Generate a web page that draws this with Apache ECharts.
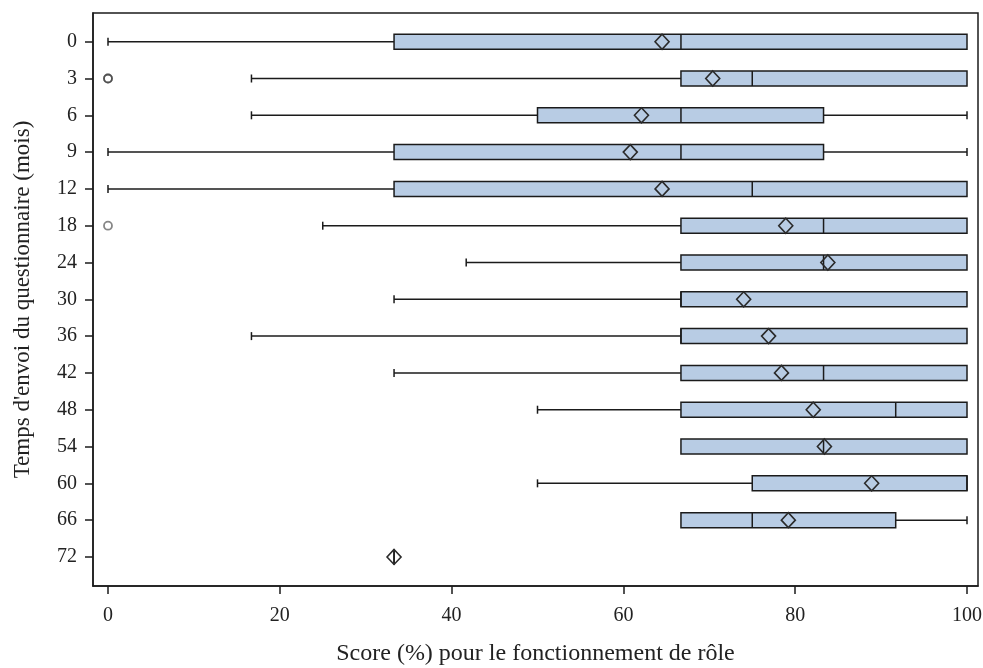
<!DOCTYPE html>
<html>
<head>
<meta charset="utf-8">
<script src="https://cdn.jsdelivr.net/npm/echarts@6/dist/echarts.min.js"></script>
<style>
  html, body { margin: 0; padding: 0; background: #fff; }
  #chart { width: 983px; height: 668px; }
</style>
</head>
<body>
<div id="chart"></div>
<script>
// Months since the questionnaire was sent (one row per time point)
const months = ['0', '3', '6', '9', '12', '18', '24', '30', '36', '42', '48', '54', '60', '66', '72'];

// Box-plot statistics of the role-functioning score (%) per time point
const whiskerLow  = [0, 16.7, 16.7, 0, 0, 25, 41.7, 33.3, 16.7, 33.3, 50, 66.7, 50, 66.7, 33.3];
const q1          = [33.3, 66.7, 50, 33.3, 33.3, 66.7, 66.7, 66.7, 66.7, 66.7, 66.7, 66.7, 75, 66.7, 33.3];
const median      = [66.7, 75, 66.7, 66.7, 75, 83.3, 83.3, 66.7, 66.7, 83.3, 91.7, 83.3, 100, 75, 33.3];
const q3          = [100, 100, 83.3, 83.3, 100, 100, 100, 100, 100, 100, 100, 100, 100, 91.7, 33.3];
const whiskerHigh = [100, 100, 100, 100, 100, 100, 100, 100, 100, 100, 100, 100, 100, 100, 33.3];
const mean        = [64.5, 70.4, 62.1, 60.8, 64.5, 78.9, 83.8, 74.0, 76.9, 78.4, 82.1, 83.4, 88.9, 79.2, 33.3];

// Outlying observations as row index + score (two coincide at 3 months)
const outlierRows   = [1, 1, 5];
const outlierScores = [0, 0, 0];

// Axis ticks
const xTicks = [0, 20, 40, 60, 80, 100];
const yTicks = months.map((m, i) => i);

const boxData = months.map((m, i) => [i, whiskerLow[i], q1[i], median[i], q3[i], whiskerHigh[i], mean[i]]);
const outlierData = outlierRows.map((r, k) => [outlierScores[k], r]);

const LINE = '#1b1b1b';
const FILL = '#b8cce4';
const FONT = 'Liberation Serif';
const BOX_HALF = 7.5;
const CAP_HALF = 4;
const DIA_W = 7;
const DIA_H = 7.5;

function renderBox(params, api) {
  const row = api.value(0);
  const pLow = api.coord([api.value(1), row]);
  const pQ1 = api.coord([api.value(2), row]);
  const pMed = api.coord([api.value(3), row]);
  const pQ3 = api.coord([api.value(4), row]);
  const pHigh = api.coord([api.value(5), row]);
  const pMean = api.coord([api.value(6), row]);
  const y = pQ1[1];
  const lineStyle = { stroke: LINE, lineWidth: 1.5, fill: null };
  const children = [];

  // lower whisker + cap
  if (pQ1[0] - pLow[0] > 0.5) {
    children.push({ type: 'line', shape: { x1: pLow[0], y1: y, x2: pQ1[0], y2: y }, style: lineStyle });
    children.push({ type: 'line', shape: { x1: pLow[0], y1: y - CAP_HALF, x2: pLow[0], y2: y + CAP_HALF }, style: lineStyle });
  }
  // upper whisker + cap
  if (pHigh[0] - pQ3[0] > 0.5) {
    children.push({ type: 'line', shape: { x1: pQ3[0], y1: y, x2: pHigh[0], y2: y }, style: lineStyle });
    children.push({ type: 'line', shape: { x1: pHigh[0], y1: y - CAP_HALF, x2: pHigh[0], y2: y + CAP_HALF }, style: lineStyle });
  }
  // box
  children.push({
    type: 'rect',
    shape: { x: pQ1[0], y: y - BOX_HALF, width: pQ3[0] - pQ1[0], height: BOX_HALF * 2 },
    style: { fill: FILL, stroke: LINE, lineWidth: 1.5 }
  });
  // median
  children.push({ type: 'line', shape: { x1: pMed[0], y1: y - BOX_HALF, x2: pMed[0], y2: y + BOX_HALF }, style: lineStyle });
  // mean diamond
  const mx = pMean[0];
  children.push({
    type: 'polygon',
    shape: { points: [[mx, y - DIA_H], [mx + DIA_W, y], [mx, y + DIA_H], [mx - DIA_W, y]] },
    style: { fill: null, stroke: '#2a2a2a', lineWidth: 1.6 }
  });
  return { type: 'group', children: children };
}

const chart = echarts.init(document.getElementById('chart'), null, { renderer: 'canvas' });

chart.setOption({
  animation: false,
  backgroundColor: '#fff',
  grid: {
    left: 93, right: 5, top: 13, bottom: 82,
    containLabel: false,
    outerBoundsMode: 'none',
    show: true, borderColor: LINE, borderWidth: 1.5, backgroundColor: 'transparent'
  },
  xAxis: {
    type: 'value',
    min: -1.746,
    max: 101.28,
    splitLine: { show: false },
    axisLine: { show: true, onZero: false, lineStyle: { color: LINE, width: 1.5 } },
    axisTick: { show: true, customValues: xTicks, length: 8, lineStyle: { color: LINE, width: 1.5 } },
    axisLabel: {
      customValues: xTicks, margin: 20,
      color: '#222', fontFamily: FONT, fontSize: 20
    },
    name: 'Score (%) pour le fonctionnement de rôle',
    nameLocation: 'middle',
    nameGap: 56,
    nameTextStyle: { color: '#222', fontFamily: FONT, fontSize: 24 }
  },
  yAxis: {
    type: 'value',
    inverse: true,
    min: -0.78,
    max: 14.79,
    splitLine: { show: false },
    axisLine: { show: true, onZero: false, lineStyle: { color: LINE, width: 1.5 } },
    axisTick: { show: true, customValues: yTicks, length: 8, lineStyle: { color: LINE, width: 1.5 } },
    axisLabel: {
      customValues: yTicks, margin: 16,
      formatter: (v) => months[Math.round(v)],
      color: '#222', fontFamily: FONT, fontSize: 20
    },
    name: "Temps d'envoi du questionnaire (mois)",
    nameLocation: 'middle',
    nameGap: 59,
    nameTextStyle: { color: '#222', fontFamily: FONT, fontSize: 23 }
  },
  series: [
    {
      type: 'custom',
      renderItem: renderBox,
      encode: { x: [1, 2, 3, 4, 5, 6], y: 0 },
      data: boxData,
      clip: false,
      z: 2
    },
    {
      type: 'scatter',
      data: outlierData,
      symbol: 'circle',
      symbolSize: 8,
      itemStyle: { color: 'transparent', borderColor: 'rgba(40,40,40,0.7)', borderWidth: 1.8 },
      z: 3
    }
  ]
});
</script>
</body>
</html>
